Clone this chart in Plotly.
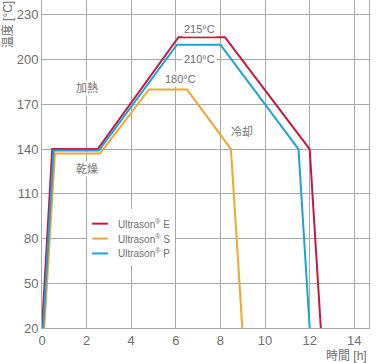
import plotly.graph_objects as go

# Data
series_names = ["Ultrason<sup>®</sup> E", "Ultrason<sup>®</sup> S", "Ultrason<sup>®</sup> P"]
e_time = [0, 0.46, 2.5, 6.12, 8.2, 12.0, 12.5]
e_temp = [20, 140, 140, 215, 215, 140, 20]
s_time = [0.1, 0.58, 2.6, 4.8, 6.5, 8.47, 8.98]
s_temp = [20, 137, 137, 180, 180, 140, 20]
p_time = [0.05, 0.52, 2.55, 6.05, 8.0, 11.5, 12.0]
p_temp = [20, 139, 139, 210, 210, 140, 20]
colors = ["#c8163e", "#f3a52c", "#1ba3d6"]

x_ticks = [0, 2, 4, 6, 8, 10, 12, 14]
y_ticks = [20, 50, 80, 110, 140, 170, 200, 230]

# annotations: (x, y, text)
labels = [
    (7.07, 220.5, "215°C"),
    (7.07, 200.5, "210°C"),
    (6.2, 187, "180°C"),
    (2.0, 181, "加熱"),
    (2.0, 126.5, "乾燥"),
    (8.96, 151.5, "冷却"),
]

FONT = "Liberation Sans, Arial, Noto Sans CJK JP, sans-serif"
TXT = "#6e6e6e"
GRID = "#a9a9a9"

fig = go.Figure()
for name, xs, ys, c in zip(series_names,
                           [e_time, s_time, p_time],
                           [e_temp, s_temp, p_temp], colors):
    fig.add_trace(go.Scatter(x=xs, y=ys, mode="lines", name=name,
                             line=dict(color=c, width=2), showlegend=False))

for x, y, t in labels:
    fig.add_annotation(x=x, y=y, text=t, showarrow=False,
                       font=dict(family=FONT, size=11, color=TXT),
                       bgcolor="white", borderpad=1)

# legend backdrop
fig.add_shape(type="rect", x0=2.04, x1=5.96, y0=62, y1=100, xref="x", yref="y",
              fillcolor="white", line=dict(width=0), layer="between")

# legend entries (keyed on series order)
legend_rows = [90, 80, 70]
for name, c, ry in zip(series_names, colors, legend_rows):
    fig.add_shape(type="line", x0=2.25, x1=2.95, y0=ry, y1=ry, xref="x", yref="y",
                  line=dict(color=c, width=2), layer="above")
    fig.add_annotation(x=3.3, y=ry, text=name, showarrow=False, xanchor="left",
                       yanchor="middle",
                       font=dict(family=FONT, size=10, color=TXT))

fig.add_annotation(xref="paper", yref="paper", x=0.93, y=-0.085,
                   text="時間 [h]", showarrow=False,
                   font=dict(family=FONT, size=12, color=TXT),
                   xanchor="center", yanchor="middle")
fig.add_annotation(xref="paper", yref="paper", x=-0.105, y=0.925,
                   text="温度 [°C]", showarrow=False, textangle=-90,
                   font=dict(family=FONT, size=12, color=TXT),
                   xanchor="center", yanchor="middle")

fig.update_layout(
    width=377, height=363,
    margin=dict(l=42, r=8, t=0, b=35),
    paper_bgcolor="white", plot_bgcolor="white",
    font=dict(family=FONT, color=TXT),
    showlegend=False,
    xaxis=dict(range=[0, 14.66], tickvals=x_ticks, ticktext=[str(v) for v in x_ticks],
               showgrid=True, gridcolor=GRID, gridwidth=1,
               showline=True, linecolor=GRID, linewidth=1,
               zeroline=False, ticks="", tickfont=dict(size=13, color=TXT, family=FONT)),
    yaxis=dict(range=[20, 240], tickvals=y_ticks, ticktext=[str(v) for v in y_ticks],
               showgrid=True, gridcolor=GRID, gridwidth=1,
               showline=True, linecolor=GRID, linewidth=1, mirror=True,
               zeroline=False, ticks="", tickfont=dict(size=13, color=TXT, family=FONT)),
)

fig.write_html("out.html")
